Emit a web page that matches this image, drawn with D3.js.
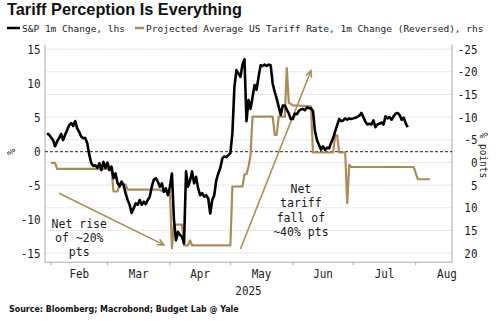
<!DOCTYPE html>
<html>
<head>
<meta charset="utf-8">
<script src="https://cdn.jsdelivr.net/npm/d3@7"></script>
<style>
  body { margin: 0; background: #fff; }
  svg { display: block; }
  .mono { font-family: "DejaVu Sans Mono", monospace; fill: #1a1a1a; }
</style>
</head>
<body>
<svg id="chart" width="500" height="321"></svg>
<script>
const leftTicks = [-15, -10, -5, 0, 5, 10, 15];
const rightTicks = [-25, -20, -15, -10, -5, 0, 5, 10, 15, 20];
const monthNames = ['Feb', 'Mar', 'Apr', 'May', 'Jun', 'Jul', 'Aug'];

// S&P 500, 1-month % change (lhs)
const spx = [
  ['2025-01-30', 2.7], ['2025-01-31', 2.5], ['2025-02-01', 2.1], ['2025-02-02', 1.7],
  ['2025-02-03', 0.8], ['2025-02-04', 1.5], ['2025-02-05', 2.0], ['2025-02-06', 2.6],
  ['2025-02-07', 1.7], ['2025-02-08', 2.5], ['2025-02-09', 3.2], ['2025-02-10', 3.9],
  ['2025-02-11', 4.2], ['2025-02-12', 3.8], ['2025-02-13', 4.5], ['2025-02-14', 3.4],
  ['2025-02-15', 2.9], ['2025-02-16', 2.2], ['2025-02-17', 2.0], ['2025-02-18', 2.0],
  ['2025-02-19', 1.2], ['2025-02-20', -0.5], ['2025-02-21', -1.7], ['2025-02-22', -2.1],
  ['2025-02-23', -2.0], ['2025-02-24', -2.4], ['2025-02-25', -1.7], ['2025-02-26', -2.7],
  ['2025-02-27', -1.5], ['2025-02-28', -2.4], ['2025-03-01', -1.6], ['2025-03-02', -2.7],
  ['2025-03-03', -2.2], ['2025-03-04', -3.9], ['2025-03-05', -3.2], ['2025-03-06', -4.6],
  ['2025-03-07', -5.1], ['2025-03-08', -4.4], ['2025-03-09', -4.9], ['2025-03-10', -6.1],
  ['2025-03-11', -7.1], ['2025-03-12', -7.8], ['2025-03-13', -9.0], ['2025-03-14', -8.3],
  ['2025-03-15', -7.6], ['2025-03-16', -7.8], ['2025-03-17', -7.1], ['2025-03-18', -7.8],
  ['2025-03-19', -7.35], ['2025-03-20', -7.7], ['2025-03-21', -7.1], ['2025-03-22', -6.6],
  ['2025-03-23', -5.15], ['2025-03-24', -4.1], ['2025-03-25', -3.9], ['2025-03-26', -4.4],
  ['2025-03-27', -5.15], ['2025-03-28', -4.65], ['2025-03-29', -5.9], ['2025-03-30', -5.4],
  ['2025-03-31', -6.4], ['2025-04-01', -5.15], ['2025-04-02', -3.2], ['2025-04-03', -10.0],
  ['2025-04-04', -13.0], ['2025-04-05', -11.8], ['2025-04-06', -12.25], ['2025-04-07', -12.5],
  ['2025-04-08', -13.5], ['2025-04-09', -2.9], ['2025-04-10', -5.15], ['2025-04-11', -4.2],
  ['2025-04-12', -2.9], ['2025-04-13', -4.65], ['2025-04-14', -3.7], ['2025-04-15', -5.4],
  ['2025-04-16', -6.4], ['2025-04-17', -6.1], ['2025-04-18', -6.6], ['2025-04-19', -6.4],
  ['2025-04-20', -6.85], ['2025-04-21', -9.1], ['2025-04-22', -7.1], ['2025-04-23', -6.4],
  ['2025-04-24', -4.2], ['2025-04-25', -3.2], ['2025-04-26', -2.4], ['2025-04-27', -1.0],
  ['2025-04-28', -0.7], ['2025-04-29', -0.8], ['2025-04-30', -0.5], ['2025-05-01', -0.2],
  ['2025-05-02', 2.7], ['2025-05-03', 9.5], ['2025-05-04', 12.0], ['2025-05-05', 11.5],
  ['2025-05-06', 11.0], ['2025-05-07', 12.8], ['2025-05-08', 13.6], ['2025-05-09', 4.5],
  ['2025-05-10', 7.6], ['2025-05-11', 6.3], ['2025-05-12', 8.0], ['2025-05-13', 9.8],
  ['2025-05-14', 9.1], ['2025-05-15', 11.0], ['2025-05-16', 12.7], ['2025-05-17', 12.6],
  ['2025-05-18', 12.8], ['2025-05-19', 12.6], ['2025-05-20', 12.8], ['2025-05-21', 12.7],
  ['2025-05-22', 10.0], ['2025-05-23', 8.8], ['2025-05-24', 7.8], ['2025-05-25', 6.6],
  ['2025-05-26', 5.4], ['2025-05-27', 6.8], ['2025-05-28', 6.8], ['2025-05-29', 6.2],
  ['2025-05-30', 5.6], ['2025-05-31', 4.8], ['2025-06-01', 4.8], ['2025-06-02', 5.6],
  ['2025-06-03', 5.5], ['2025-06-04', 6.0], ['2025-06-05', 6.2], ['2025-06-06', 6.3],
  ['2025-06-07', 6.1], ['2025-06-08', 6.5], ['2025-06-09', 6.4], ['2025-06-10', 6.4],
  ['2025-06-11', 6.0], ['2025-06-12', 3.0], ['2025-06-13', 1.7], ['2025-06-14', 1.0],
  ['2025-06-15', 0.3], ['2025-06-16', 0.8], ['2025-06-17', 0.25], ['2025-06-18', 0.6],
  ['2025-06-19', 0.5], ['2025-06-20', 1.3], ['2025-06-21', 2.0], ['2025-06-22', 3.0],
  ['2025-06-23', 3.9], ['2025-06-24', 4.8], ['2025-06-25', 4.5], ['2025-06-26', 4.6],
  ['2025-06-27', 4.9], ['2025-06-28', 4.7], ['2025-06-29', 4.9], ['2025-06-30', 4.8],
  ['2025-07-01', 4.9], ['2025-07-02', 5.0], ['2025-07-03', 5.1], ['2025-07-04', 5.3],
  ['2025-07-05', 5.7], ['2025-07-06', 5.1], ['2025-07-07', 4.4], ['2025-07-08', 4.0],
  ['2025-07-09', 4.1], ['2025-07-10', 4.0], ['2025-07-11', 4.6], ['2025-07-12', 3.6],
  ['2025-07-13', 4.0], ['2025-07-14', 4.1], ['2025-07-15', 4.3], ['2025-07-16', 4.0],
  ['2025-07-17', 5.2], ['2025-07-18', 4.9], ['2025-07-19', 5.1], ['2025-07-20', 4.7],
  ['2025-07-21', 5.2], ['2025-07-22', 5.6], ['2025-07-23', 5.7], ['2025-07-24', 5.4],
  ['2025-07-25', 4.7], ['2025-07-26', 5.0], ['2025-07-27', 4.2], ['2025-07-28', 3.6]
];

// Projected average US tariff rate, 1-month change in % points (rhs, reversed)
const tariff = [
  ['2025-02-01', 0.1], ['2025-02-03', 0.1], ['2025-02-04', 1.4], ['2025-03-03', 1.4],
  ['2025-03-04', 6.4], ['2025-03-06', 6.4], ['2025-03-07', 4.9], ['2025-03-10', 4.9],
  ['2025-03-11', 6.0], ['2025-03-27', 6.0], ['2025-03-28', 6.3], ['2025-04-01', 6.3],
  ['2025-04-02', 18.9], ['2025-04-03', 13.7], ['2025-04-07', 13.7], ['2025-04-08', 18.3],
  ['2025-04-10', 18.3], ['2025-04-11', 17.2], ['2025-04-12', 18.3], ['2025-05-01', 18.3],
  ['2025-05-02', 5.3], ['2025-05-07', 5.3], ['2025-05-08', 2.6], ['2025-05-09', 2.6],
  ['2025-05-10', 0.9], ['2025-05-11', -1.5], ['2025-05-12', -10.1], ['2025-05-22', -10.1],
  ['2025-05-23', -6.1], ['2025-05-24', -6.1], ['2025-05-25', -10.1], ['2025-05-28', -10.1],
  ['2025-05-29', -20.8], ['2025-05-30', -13.2], ['2025-06-01', -12.6], ['2025-06-10', -12.4],
  ['2025-06-11', -2.2], ['2025-06-21', -2.2], ['2025-06-22', -6.0], ['2025-06-23', -6.0],
  ['2025-06-24', -2.2], ['2025-06-27', -2.2], ['2025-06-28', 9.0], ['2025-06-29', 0.5],
  ['2025-06-30', 1.0], ['2025-07-31', 1.0], ['2025-08-02', 3.7], ['2025-08-08', 3.7]
];

// arrows and notes are placed in lhs units
const arrows = [
  { from: ['2025-02-05', -6.1], to: ['2025-03-29', -13.7] },
  { from: ['2025-05-06', -14.3], to: ['2025-06-10', 11.9] }
];
const notes = [
  { at: ['2025-02-15', -11.2], lines: ['Net rise', 'of ~20%', 'pts'] },
  { at: ['2025-06-05', -6.1], lines: ['Net', 'tariff', 'fall of', '~40% pts'] }
];

const W = 500, H = 321;
const plot = { left: 45, right: 452, top: 44.6, bottom: 262.2 };
const gold = '#ab8b56';

const parseDay = d3.utcParse('%Y-%m-%d');
const svg = d3.select('#chart').attr('viewBox', [0, 0, W, H]);

const x = d3.scaleUtc()
  .domain([parseDay('2025-01-29'), parseDay('2025-08-19')])
  .range([plot.left, plot.right]);
const yL = d3.scaleLinear().domain([-16.25, 15.75]).range([plot.bottom, plot.top]);
const yR = d3.scaleLinear().domain([-26, 22]).range([plot.top, plot.bottom]);

// squeeze glyphs horizontally, the chart font is narrow
const squeeze = (sel, k) => sel.each(function () {
  const w = this.getComputedTextLength();
  d3.select(this).attr('textLength', w * k).attr('lengthAdjust', 'spacingAndGlyphs');
});

// title + legend
svg.append('text')
  .attr('x', 7).attr('y', 14.5)
  .attr('font-family', '"Liberation Sans", Arial, sans-serif')
  .attr('font-weight', 'bold').attr('font-size', 16.3)
  .attr('fill', '#111')
  .text('Tariff Perception Is Everything');

const legend = [
  { label: 'S&P 1m Change, lhs', color: '#000', x: 7, w: 13 },
  { label: 'Projected Average US Tariff Rate, 1m Change (Reversed), rhs', color: gold, x: 135, w: 9 }
];
legend.forEach(l => {
  svg.append('line')
    .attr('x1', l.x).attr('x2', l.x + l.w)
    .attr('y1', 28).attr('y2', 28)
    .attr('stroke', l.color).attr('stroke-width', 2.5);
  svg.append('text').attr('class', 'mono')
    .attr('x', l.x + l.w + 2).attr('y', 31.5)
    .attr('font-size', 9.5)
    .text(l.label);
});

// gridlines on the rhs ticks
svg.append('g')
  .selectAll('line')
  .data(rightTicks)
  .join('line')
  .attr('x1', plot.left).attr('x2', plot.right)
  .attr('y1', d => yR(d)).attr('y2', d => yR(d))
  .attr('stroke', '#d0d0d0').attr('stroke-width', 0.8)
  .attr('stroke-dasharray', '1.5,1');

// frame: left, right and bottom
const frame = svg.append('g').attr('stroke', '#a9a9a9').attr('stroke-width', 1);
frame.append('line').attr('x1', plot.left).attr('x2', plot.left).attr('y1', plot.top).attr('y2', plot.bottom);
frame.append('line').attr('x1', plot.right).attr('x2', plot.right).attr('y1', plot.top).attr('y2', plot.bottom);
frame.append('line').attr('x1', plot.left).attr('x2', plot.right).attr('y1', plot.bottom).attr('y2', plot.bottom);

// month ticks
const months = d3.utcMonth.range(parseDay('2025-02-01'), parseDay('2025-09-01'));
frame.selectAll('.tick')
  .data(months.filter(m => x(m) < plot.right))
  .join('line')
  .attr('x1', d => x(d)).attr('x2', d => x(d))
  .attr('y1', plot.bottom).attr('y2', plot.bottom + 3);

// zero line
svg.append('line')
  .attr('x1', plot.left).attr('x2', plot.right)
  .attr('y1', yL(0)).attr('y2', yL(0))
  .attr('stroke', '#222').attr('stroke-width', 1)
  .attr('stroke-dasharray', '3,2');

// axis labels
svg.append('g').selectAll('text')
  .data(leftTicks)
  .join('text').attr('class', 'mono')
  .attr('x', 40.5).attr('y', d => yL(d)).attr('dy', '0.36em')
  .attr('text-anchor', 'end').attr('font-size', 13)
  .text(d => d)
  .call(squeeze, 0.84);

svg.append('g').selectAll('text')
  .data(rightTicks)
  .join('text').attr('class', 'mono')
  .attr('x', 477.5).attr('y', d => yR(d)).attr('dy', '0.36em')
  .attr('text-anchor', 'end').attr('font-size', 13)
  .text(d => d)
  .call(squeeze, 0.84);

svg.append('g').selectAll('text')
  .data(months.slice(0, monthNames.length))
  .join('text').attr('class', 'mono')
  .attr('x', d => (x(d) + x(d3.utcMonth.offset(d, 1))) / 2)
  .attr('y', 278)
  .attr('text-anchor', 'middle').attr('font-size', 13)
  .text((d, i) => monthNames[i])
  .call(squeeze, 0.84);

svg.append('text').attr('class', 'mono')
  .attr('x', (plot.left + plot.right) / 2).attr('y', 294.5)
  .attr('text-anchor', 'middle').attr('font-size', 13)
  .text('2025')
  .call(squeeze, 0.84);

svg.append('text').attr('class', 'mono')
  .attr('transform', `translate(14.5,${yL(0)}) rotate(-90)`)
  .attr('text-anchor', 'middle').attr('font-size', 10)
  .text('%');

svg.append('text').attr('class', 'mono')
  .attr('transform', `translate(480,${(plot.top + plot.bottom) / 2 + 2}) rotate(90)`)
  .attr('text-anchor', 'middle').attr('font-size', 11)
  .text('% points')
  .call(squeeze, 0.86);

// annotation arrows
const pt = ([d, v]) => [x(parseDay(d)), yL(v)];
const arrowG = svg.append('g')
  .attr('stroke', gold).attr('stroke-width', 1.6).attr('fill', 'none');
arrows.forEach(a => {
  const [x0, y0] = pt(a.from);
  const [x1, y1] = pt(a.to);
  const ang = Math.atan2(y1 - y0, x1 - x0);
  const head = 7, spread = 0.45;
  arrowG.append('line').attr('x1', x0).attr('y1', y0).attr('x2', x1).attr('y2', y1);
  arrowG.append('path').attr('d', d3.line()([
    [x1 - head * Math.cos(ang - spread), y1 - head * Math.sin(ang - spread)],
    [x1, y1],
    [x1 - head * Math.cos(ang + spread), y1 - head * Math.sin(ang + spread)]
  ]));
});

// series
const tariffLine = d3.line()
  .x(d => x(parseDay(d[0])))
  .y(d => yR(d[1]));
svg.append('path')
  .datum(tariff)
  .attr('d', tariffLine)
  .attr('fill', 'none').attr('stroke', gold)
  .attr('stroke-width', 2.2).attr('stroke-linejoin', 'round');

const spxLine = d3.line()
  .x(d => x(parseDay(d[0])))
  .y(d => yL(d[1]));
svg.append('path')
  .datum(spx)
  .attr('d', spxLine)
  .attr('fill', 'none').attr('stroke', '#000')
  .attr('stroke-width', 2.6).attr('stroke-linejoin', 'round');

// notes
notes.forEach(n => {
  const [nx, ny] = pt(n.at);
  const t = svg.append('text').attr('class', 'mono')
    .attr('text-anchor', 'middle').attr('font-size', 11.5);
  n.lines.forEach((s, i) => {
    t.append('tspan').attr('x', nx).attr('y', ny + i * 14.3).text(s);
  });
});

// source
svg.append('text')
  .attr('x', 9).attr('y', 311.5)
  .attr('font-family', '"DejaVu Sans", Verdana, sans-serif')
  .attr('font-weight', 'bold').attr('font-size', 9)
  .attr('fill', '#111')
  .text('Source: Bloomberg; Macrobond; Budget Lab @ Yale')
  .call(squeeze, 0.88);
</script>
</body>
</html>
